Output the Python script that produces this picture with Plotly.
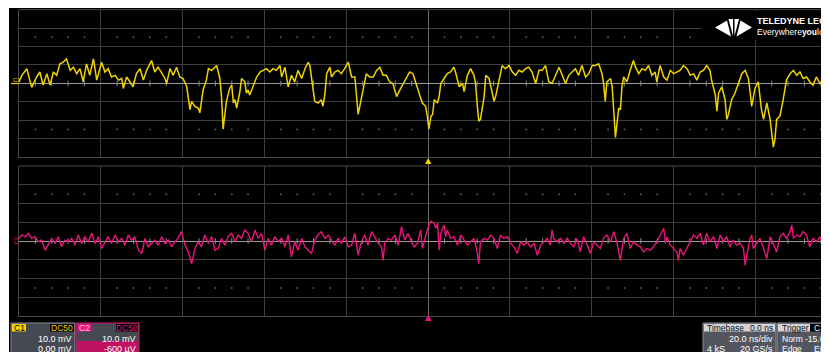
import plotly.graph_objects as go

# C1 (yellow), time in ns, amplitude in mV
c1_time_ns = [
    -100.0, -99.3, -98.1, -96.9, -95.7, -94.9, -94.1, -93.2, -92.4, -91.6,
    -90.8, -90.0, -89.2, -88.4, -87.5, -86.7, -85.9, -85.1, -84.3, -83.5,
    -82.7, -81.8, -81.0, -79.8, -79.0, -78.2, -77.4, -76.5, -75.7, -74.9,
    -74.5, -73.7, -72.9, -72.1, -71.3, -70.4, -69.6, -68.8, -67.6, -66.8,
    -66.0, -65.1, -64.3, -63.9, -63.1, -62.3, -61.5, -60.7, -59.9, -59.0,
    -58.2, -57.8, -57.0, -56.2, -55.8, -55.0, -54.2, -53.7, -52.9, -52.1,
    -51.7, -50.9, -50.5, -50.1, -49.7, -49.3, -48.5, -48.0, -47.6, -47.2,
    -46.8, -46.0, -45.6, -44.8, -44.4, -44.0, -43.6, -42.8, -41.9, -41.1,
    -40.3, -39.5, -38.7, -37.9, -37.1, -36.2, -35.8, -35.0, -34.2, -33.4,
    -32.6, -31.8, -30.9, -30.1, -29.3, -28.9, -28.1, -27.7, -26.9, -26.1,
    -25.7, -25.2, -24.8, -24.0, -23.6, -22.8, -22.0, -21.2, -20.4, -19.5,
    -18.7, -17.9, -17.1, -16.3, -15.5, -15.1, -14.3, -13.4, -12.6, -11.8,
    -11.0, -10.2, -9.4, -8.6, -7.7, -6.9, -6.1, -5.3, -4.5, -3.7,
    -3.0, -2.2, -1.4, -0.6, -0.2, 0.2, 0.7, 1.1, 1.5, 2.3,
    2.7, 3.1, 3.9, 4.7, 5.5, 6.3, 6.7, 7.6, 8.4, 8.8,
    9.6, 10.4, 11.2, 11.6, 12.0, 12.4, 12.8, 13.7, 14.1, 14.9,
    15.7, 16.1, 16.5, 17.3, 18.1, 18.9, 19.8, 20.6, 21.4, 22.2,
    23.0, 23.8, 24.6, 25.4, 26.3, 27.1, 27.9, 28.7, 29.5, 30.3,
    31.1, 32.0, 32.8, 33.6, 34.4, 35.2, 36.0, 36.8, 37.6, 38.5,
    39.3, 40.1, 40.9, 41.7, 42.5, 42.9, 43.3, 43.7, 44.6, 45.0,
    45.4, 45.8, 46.2, 46.6, 47.0, 47.4, 47.8, 48.6, 49.4, 50.2,
    50.7, 51.5, 52.3, 53.1, 53.9, 54.7, 55.5, 55.9, 56.7, 57.6,
    58.4, 59.2, 60.0, 60.8, 61.6, 62.4, 63.3, 64.1, 64.9, 65.7,
    66.5, 67.3, 68.1, 68.9, 69.3, 70.2, 70.6, 71.0, 71.8, 72.6,
    73.0, 73.4, 74.2, 75.0, 75.9, 76.7, 77.5, 78.3, 78.7, 79.1,
    79.9, 80.7, 81.5, 82.0, 82.8, 83.6, 84.4, 84.8, 85.2, 86.0,
    86.8, 87.6, 88.5, 89.3, 90.1, 90.9, 91.7, 92.5, 93.3, 94.1,
    94.9, 95.8, 96.6, 97.8,
]
c1_mv = [
    0.9, 4.4, 8.0, -2.1, 3.5, 6.2, -0.9, 5.3, -0.9, 6.2,
    4.4, 10.6, 11.5, 13.3, 7.1, 8.8, 5.3, 8.0, 0.9, 10.6,
    4.4, 13.3, 1.8, 11.5, 6.2, 8.0, 3.5, 4.4, 1.8, 2.7,
    -2.7, 3.5, 0.9, -1.8, 5.3, 8.0, 1.8, 7.1, 12.4, 6.2,
    8.8, 5.3, 2.7, 0.0, 8.0, 4.4, 8.8, 3.5, 2.7, -1.8,
    -14.2, -9.7, -12.4, -13.3, -15.9, -3.5, 1.8, 8.0, 7.1, 8.8,
    9.7, 2.7, -7.1, -24.8, -17.7, -9.7, -2.7, -0.9, -10.6, -8.8,
    -13.3, -4.4, 2.7, 0.9, -5.3, -3.5, -6.2, -1.8, 3.5, 6.2,
    7.1, 8.0, 6.2, 8.0, 7.1, 9.7, 3.5, 8.8, -1.8, 4.4,
    0.9, 7.1, 2.7, 8.0, 11.5, 9.7, -3.5, -9.7, -10.6, -8.8,
    -12.4, -5.3, 5.3, 8.8, 3.5, 6.2, 7.1, 5.3, 8.0, 11.5,
    3.5, 3.5, -16.8, -8.8, 0.9, 5.3, 3.5, 3.5, 7.1, 8.8,
    4.4, 4.4, 0.9, 0.0, -7.1, -3.5, 0.0, 3.5, 6.2, 5.3,
    0.9, -5.3, -10.6, -12.4, -17.7, -24.8, -17.7, -16.8, -8.8, -10.6,
    -7.1, 0.0, 2.7, 5.3, 6.2, 8.8, 6.2, -1.8, 0.0, -4.4,
    4.4, 8.0, 4.4, 0.0, -11.5, -20.4, -19.5, -7.1, 4.4, 2.7,
    -5.3, -9.7, -7.1, 0.9, 9.7, 8.0, 9.7, 6.2, 4.4, 7.1,
    6.2, 8.0, 8.8, 6.2, 0.0, 7.1, 7.1, 9.7, 0.9, 0.0,
    4.4, 8.8, 4.4, 0.0, 4.4, 6.2, 8.0, 4.4, 9.7, 3.5,
    5.3, 9.7, 9.7, 10.6, 5.3, 0.0, -9.7, 0.9, 2.7, -1.8,
    -14.2, -29.2, -21.2, -13.3, -14.2, -1.8, 3.5, 0.9, 7.1, 12.4,
    8.8, 5.3, 8.0, 7.1, 9.7, 4.4, 6.2, 0.9, 9.7, 3.5,
    1.8, 7.1, 5.3, 6.2, 7.1, 9.7, 8.0, 4.4, 5.3, 1.8,
    6.2, 7.1, 9.7, 7.1, 1.8, -6.2, -15.0, -5.3, -1.8, -8.8,
    -19.5, -16.8, -8.8, -5.3, 0.0, 5.3, 7.1, 2.7, -4.4, -12.4,
    -2.7, 0.9, -14.2, -19.5, -10.6, -19.5, -34.5, -30.1, -19.5, -17.7,
    -8.8, 1.8, 5.3, 7.1, 4.4, 6.2, 2.7, 3.5, 0.9, -0.9,
    3.5, 0.0, 0.9, -3.5,
]

# C2 (magenta), time in ns, amplitude in mV (relative to screen centre)
c2_time_ns = [
    -100.0, -99.3, -98.5, -97.7, -96.9, -96.1, -95.3, -94.5, -93.6, -92.8,
    -92.0, -91.2, -90.4, -89.6, -88.8, -87.9, -87.1, -86.3, -85.5, -84.7,
    -83.9, -83.1, -82.2, -81.4, -80.6, -79.8, -79.0, -78.2, -77.4, -76.5,
    -75.7, -74.9, -74.1, -73.3, -72.5, -71.7, -70.8, -70.0, -69.2, -68.4,
    -67.6, -66.8, -66.0, -65.1, -64.3, -63.5, -62.7, -61.9, -61.1, -60.3,
    -59.4, -58.6, -57.8, -57.0, -56.2, -55.4, -54.6, -53.7, -52.9, -52.1,
    -51.3, -50.5, -49.7, -48.9, -48.0, -47.2, -46.4, -45.6, -44.8, -44.0,
    -43.2, -42.3, -41.5, -40.7, -39.9, -39.1, -38.3, -37.5, -36.6, -35.8,
    -35.0, -34.2, -33.4, -32.6, -31.8, -30.9, -30.1, -29.3, -28.5, -27.7,
    -26.9, -26.1, -25.2, -24.4, -23.6, -22.8, -22.0, -21.2, -20.4, -19.5,
    -18.7, -17.9, -17.1, -16.3, -15.5, -14.7, -13.8, -13.0, -12.2, -11.4,
    -11.0, -10.6, -9.8, -9.0, -8.1, -7.3, -6.5, -5.7, -4.9, -4.1,
    -3.4, -2.6, -1.8, -1.4, -1.0, -0.2, 0.2, 0.7, 1.5, 1.9,
    2.3, 2.7, 3.1, 3.9, 4.3, 4.7, 5.5, 6.3, 7.2, 8.0,
    8.8, 9.6, 10.4, 11.2, 12.0, 12.4, 12.8, 13.7, 14.5, 15.3,
    16.1, 16.9, 17.7, 18.5, 19.4, 20.2, 21.0, 21.8, 22.6, 23.4,
    24.2, 25.0, 25.9, 26.7, 27.5, 28.3, 29.1, 29.9, 30.3, 30.7,
    31.5, 32.4, 33.2, 34.0, 34.8, 35.6, 36.4, 37.2, 38.0, 38.9,
    39.7, 40.5, 41.3, 42.1, 42.9, 43.7, 44.6, 45.4, 46.2, 47.0,
    47.8, 48.6, 49.4, 50.2, 51.1, 51.9, 52.7, 53.5, 54.3, 55.1,
    55.9, 56.7, 57.6, 58.0, 58.4, 59.2, 60.0, 60.8, 61.2, 61.6,
    62.4, 63.3, 64.1, 64.9, 65.7, 66.5, 67.3, 68.1, 68.9, 69.8,
    70.6, 71.4, 72.2, 73.0, 73.8, 74.6, 75.4, 76.3, 77.1, 77.5,
    77.9, 78.7, 79.1, 79.5, 80.3, 81.1, 82.0, 82.8, 83.6, 84.4,
    85.2, 86.0, 86.8, 87.6, 88.5, 88.9, 89.3, 90.1, 90.9, 91.7,
    92.5, 93.3, 94.1, 95.0, 95.8, 96.6, 97.8,
]
c2_mv = [
    1.4, 3.2, 2.3, 4.1, 1.4, 2.3, -0.4, 0.5, -4.9, -1.3,
    1.4, -1.3, 2.3, -3.1, 0.5, -0.4, 1.4, -2.2, 3.2, -1.3,
    2.3, -0.4, 4.1, -1.3, 2.3, -4.0, -0.4, 2.3, -1.3, 3.2,
    -0.4, 1.4, -2.2, 3.2, 0.5, 2.3, -4.9, -6.7, 1.4, -3.1,
    -1.3, 0.5, -2.2, 2.3, -1.3, 0.5, -3.1, -0.4, 1.4, 5.0,
    -2.2, -5.8, -12.1, -4.0, -0.4, -3.1, 3.2, -1.3, 2.3, -4.9,
    -4.0, 1.4, -2.2, 2.3, 4.1, -0.4, 3.2, 1.4, 5.9, 4.1,
    -0.4, 5.9, 1.4, 4.1, -4.9, 1.4, -2.2, 2.3, -0.4, 1.4,
    -3.1, 3.2, -8.5, -0.4, -4.9, 1.4, -3.1, -4.9, -6.7, 0.5,
    3.2, 5.0, 1.4, 3.2, 0.5, -2.2, 1.4, -1.3, 2.3, -3.1,
    -2.2, 4.1, -7.6, -0.4, 3.2, -2.2, 5.0, 1.4, -1.3, -3.1,
    -10.3, -1.3, 1.4, 0.5, 3.2, -2.2, 7.7, 0.5, 4.1, -0.4,
    -3.1, -1.3, 5.9, -4.0, -0.4, 5.9, 8.6, 10.5, 9.5, 6.8,
    9.5, -4.9, 4.1, 8.6, 2.3, 5.9, 1.4, 2.3, -2.2, 3.2,
    0.5, -2.2, -0.4, 1.4, -5.8, -12.1, -0.4, 1.4, 0.5, 3.2,
    1.4, -4.0, 3.2, 1.4, 2.3, -1.3, -3.1, -6.7, -0.4, -2.2,
    -0.4, -3.1, -1.3, -7.6, -2.2, -0.4, 1.4, -2.2, 5.9, 1.4,
    -0.4, 1.4, -1.3, 1.4, -1.3, -3.1, 1.4, -5.8, 2.3, -2.2,
    -6.7, -0.4, -2.2, -4.0, 1.4, 3.2, -0.4, 5.0, -1.3, -10.3,
    1.4, 4.1, -4.0, -0.4, -2.2, -3.1, -5.8, -4.0, -4.9, -3.1,
    -0.4, 3.2, 6.8, -1.3, 2.3, -2.2, -4.0, -5.8, -10.3, -4.0,
    -7.6, -4.0, -0.4, 3.2, 1.4, 4.1, -2.2, 4.1, -0.4, 2.3,
    -4.0, 3.2, -0.4, 2.3, -3.1, 0.5, -2.2, -1.3, -4.0, -13.0,
    -7.6, 1.4, 3.2, -4.0, -1.3, 1.4, -4.0, -9.4, 2.3, -1.3,
    -5.8, 2.3, 4.1, 1.4, 5.0, 8.6, 1.4, 3.2, 2.3, 5.0,
    3.2, -3.1, 1.4, -0.4, 2.3, -1.3, -4.0,
]

# screen settings
time_per_div_ns = 20
volts_per_div_mv = 10
x_range_ns = [-100, 98]
y_range_mv = [-40, 40]

# ---------------- layout helpers ----------------
# The page body has an 8 px margin, so the figure starts at window (8, 8)
# and fills the rest of the 829x352 window.
OFF = 8
W, H = 829 - OFF, 352 - OFF

def px(x):  # window x -> paper
    return (x - OFF) / W
def py(y):  # window y -> paper
    return 1 - (y - OFF) / H

YEL = '#f0d400'
PINK = '#e8157a'
GRID = '#3e3e3e'
FONT = 'Liberation Sans, Arial, sans-serif'

fig = go.Figure()

# graticule decorations (minor dots and centre-line ticks)
minor_x = [x_range_ns[0] + 4 * k for k in range(50) if k % 5 != 0]
for ax in ('', '2'):
    fig.add_trace(go.Scatter(
        x=minor_x + minor_x, y=[25] * len(minor_x) + [-25] * len(minor_x),
        mode='markers', marker=dict(size=2, color='#555555'),
        xaxis='x' + ax, yaxis='y' + ax, hoverinfo='skip', showlegend=False))
    fig.add_trace(go.Scatter(
        x=minor_x, y=[0] * len(minor_x), mode='markers',
        marker=dict(symbol='line-ns', size=4, line=dict(color='#8a8a8a', width=1)),
        xaxis='x' + ax, yaxis='y' + ax, hoverinfo='skip', showlegend=False))

fig.add_trace(go.Scatter(x=c1_time_ns, y=c1_mv, mode='lines',
                         line=dict(color=YEL, width=1.5),
                         xaxis='x', yaxis='y', hoverinfo='skip', showlegend=False))
fig.add_trace(go.Scatter(x=c2_time_ns, y=c2_mv, mode='lines',
                         line=dict(color=PINK, width=1.4),
                         xaxis='x2', yaxis='y2', hoverinfo='skip', showlegend=False))

def xaxis(anchor):
    return dict(range=x_range_ns, dtick=time_per_div_ns, tick0=0,
                showticklabels=False, ticks='', showgrid=True, gridcolor=GRID,
                gridwidth=1, zeroline=True, zerolinecolor='#6a6a6a', zerolinewidth=1,
                showline=True, linecolor='#4a4a4a', linewidth=1,
                domain=[px(19), 1], anchor=anchor, fixedrange=True)

def yaxis(anchor, dom):
    return dict(range=y_range_mv, dtick=volts_per_div_mv, tick0=0,
                showticklabels=False, ticks='', showgrid=True, gridcolor=GRID,
                gridwidth=1, zeroline=True, zerolinecolor='#9c9c9c', zerolinewidth=1,
                showline=True, linecolor='#4a4a4a', linewidth=1,
                domain=dom, anchor=anchor, fixedrange=True)

shapes = []
def rect(x0, y0, x1, y1, fill, line=None, lw=1):
    shapes.append(dict(type='rect', xref='paper', yref='paper',
                       x0=px(x0), x1=px(x1), y0=py(y1), y1=py(y0),
                       fillcolor=fill, line=dict(color=line or fill, width=lw if line else 0),
                       layer='above'))

def poly(pts, fill):
    d = 'M ' + ' L '.join(f'{px(a):.5f},{py(b):.5f}' for a, b in pts) + ' Z'
    shapes.append(dict(type='path', xref='paper', yref='paper', path=d,
                       fillcolor=fill, line=dict(width=0), layer='above'))

def hline(x0, x1, y, color, w=1):
    shapes.append(dict(type='line', xref='paper', yref='paper', x0=px(x0), x1=px(x1),
                       y0=py(y), y1=py(y), line=dict(color=color, width=w), layer='above'))

def vline(x, y0, y1, color, w=1):
    shapes.append(dict(type='line', xref='paper', yref='paper', x0=px(x), x1=px(x),
                       y0=py(y0), y1=py(y1), line=dict(color=color, width=w), layer='below'))

# 1 px of white at the left edge of the black screen
rect(8, 8, 9, 352, '#ffffff')
# panel top borders
hline(19, 829, 9.6, '#4a4a4a')
hline(19, 829, 166, '#4a4a4a')
# centre vertical line continues through the gaps
vline(428.5, 157, 166, '#6a6a6a')
vline(428.5, 316, 320, '#6a6a6a')

# trigger position markers
poly([(425, 164), (431.5, 164), (428.3, 158)], YEL)
poly([(425, 321), (431.5, 321), (428.3, 315)], PINK)

# C1 side marker line
hline(11, 19, 83.5, YEL, 1.2)

# logo backdrop + logo
rect(701, 11, 829, 40, '#000000')
poly([(715, 27.5), (727, 20.5), (731, 36.5)], '#ffffff')
poly([(728.5, 19), (733, 19), (733, 36)], '#ffffff')
poly([(734.5, 19), (739, 19), (734.5, 36)], '#ffffff')
poly([(740.5, 20.5), (752, 27.5), (736.5, 36.5)], '#ffffff')

# bottom info boxes
rect(11, 323, 75, 356, '#474952', '#8a8c96')
rect(12, 324, 26, 331.5, YEL)
rect(50, 324, 74, 331.5, '#000000')
rect(76, 323, 139, 356, '#474952', '#d4106c')
rect(77, 341, 138, 356, '#c01262')
rect(78, 324, 91, 331.5, PINK)
rect(116, 324, 138, 331.5, '#000000')
rect(703, 323, 776, 356, '#54565f', '#8a8c96')
rect(704, 324, 775, 331.5, '#d4d4d8')
rect(777, 323, 835, 356, '#54565f', '#8a8c96')
rect(778, 324, 810, 331.5, '#d4d4d8')
rect(810, 324, 829, 331.5, '#000000')

ann = []
def text(x, y, s, size=9, color='#ffffff', anchor='left', bold=False, angle=0):
    if bold:
        s = f'<b>{s}</b>'
    ann.append(dict(x=px(x), y=py(y), xref='paper', yref='paper', text=s,
                    showarrow=False, xanchor=anchor, yanchor='middle',
                    font=dict(family=FONT, size=size, color=color), textangle=angle))

text(755, 21.5, 'TELEDYNE LECROY', 9, '#ffffff', bold=True)
text(755, 31.5, 'Everywhere<b>you</b>look', 8.5, '#ffffff')
text(10.5, 79.5, 'C1', 6, YEL)
text(15, 240.5, 'C2', 6, PINK, anchor='center', angle=-90)

text(19, 328, 'C1', 8.5, '#000000', anchor='center')
text(62, 328, 'DC50', 8.5, YEL, anchor='center')
text(74, 338.5, '10.0 mV', 9, '#ffffff', anchor='right')
text(74, 349, '0.00 mV', 9, '#ffffff', anchor='right')
text(84.5, 328, 'C2', 8.5, '#ffc0e0', anchor='center')
text(127, 328, 'DC50', 8.5, PINK, anchor='center')
text(138, 338.5, '10.0 mV', 9, '#ffffff', anchor='right')
text(138, 349, '-600 µV', 9, '#ffffff', anchor='right')

text(704.5, 328, 'Timebase', 8.5, '#111111')
text(775, 328, '0.0 ns', 8.5, '#111111', anchor='right')
text(775, 338.5, '20.0 ns/div', 9, '#ffffff', anchor='right')
text(705, 349, '4 kS', 9, '#ffffff')
text(775, 349, '20 GS/s', 9, '#ffffff', anchor='right')
text(779.5, 328, 'Trigger', 8.5, '#111111')
text(811.5, 328, 'C1', 8.5, '#ffffff')
text(779.5, 338.5, 'Norm', 8.5, '#ffffff')
text(803, 338.5, '-15.6 mV', 8.5, '#ffffff')
text(779.5, 349, 'Edge', 8.5, '#ffffff')
text(812, 349, 'E(0)', 8.5, '#ffffff')

fig.update_layout(
    width=W, height=H, margin=dict(l=0, r=0, t=0, b=0, pad=0),
    paper_bgcolor='#000000', plot_bgcolor='#000000',
    xaxis=xaxis('y'), yaxis=yaxis('x', [py(157.3), py(9.6)]),
    xaxis2=xaxis('y2'), yaxis2=yaxis('x2', [py(316), py(166)]),
    shapes=shapes, annotations=ann, showlegend=False,
)

fig.write_html('out.html', config={'displayModeBar': False})
